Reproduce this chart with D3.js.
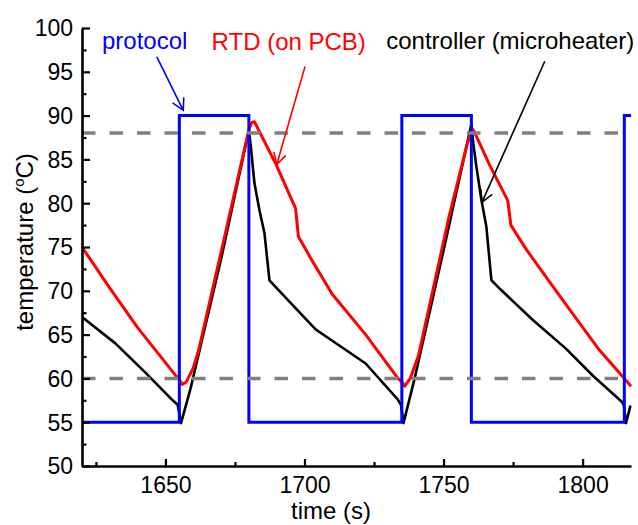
<!DOCTYPE html>
<html>
<head>
<meta charset="utf-8">
<script src="https://cdn.jsdelivr.net/npm/d3@7"></script>
<style>
    body { margin: 0; background: white; }
    svg { font-family: "Liberation Sans", Arial, sans-serif; }
</style>
</head>
<body>
<script>
// axis ticks
var timeTicks = [1650, 1700, 1750, 1800];
var timeMinorTicks = [1625, 1675, 1725, 1775];
var tempTicks = [50, 55, 60, 65, 70, 75, 80, 85, 90, 95, 100];
var tempMinorTicks = [52.5, 57.5, 62.5, 67.5, 72.5, 77.5, 82.5, 87.5, 92.5, 97.5];

// protocol (set point square wave)
var protocolTime = [1620, 1655, 1655, 1680, 1680, 1735, 1735, 1760, 1760, 1815, 1815, 1817.4];
var protocolTemp = [55, 55, 90, 90, 55, 55, 90, 90, 55, 55, 90, 90];

// RTD on the PCB (red)
var rtdTime = [1620, 1630, 1640, 1648, 1654, 1655, 1656, 1657.5, 1660, 1662, 1671, 1680, 1681, 1682,
    1689.8, 1696.8, 1697.8, 1703, 1710, 1722, 1733.6, 1735, 1736,
    1738, 1741, 1752, 1758.2, 1760.3, 1761,
    1766.5, 1773.1, 1774.2, 1779.8, 1790, 1794.1, 1806.1, 1813.9, 1817.4];
var rtdTemp = [75.0, 70.3, 65.8, 62.6, 60.2, 59.9, 59.3, 59.6, 61.2, 63.3, 75.8, 88.4, 89.2, 89.3,
    84.4, 79.4, 76.2, 73.3, 69.6, 65.0, 60.0, 59.6, 59.1,
    60.0, 62.6, 78.5, 86.4, 88.5, 88.2,
    84.4, 80.3, 77.5, 74.7, 70.2, 68.4, 63.2, 60.4, 59.1];

// controller on the microheater (black)
var ctrlTime = [1620, 1632, 1643, 1652.6, 1654.4, 1655.6, 1659, 1670, 1680,
    1680.7, 1682, 1683.8, 1685.6, 1687.4, 1690, 1704, 1710, 1722, 1733.5, 1734.7, 1735.6,
    1739.6, 1750, 1760, 1760.7, 1761.8, 1763.6, 1765.4, 1767.2, 1770, 1782, 1794, 1803.7, 1813.9, 1814.8, 1815.6, 1817.2];
var ctrlTemp = [67.0, 64.0, 60.6, 57.5, 57.0, 54.9, 58.8, 73.6, 88.3,
    86.5, 82.3, 79.2, 76.6, 71.2, 70.3, 65.6, 64.3, 61.7, 57.6, 57.0, 54.9,
    60.0, 74.6, 89.0, 86.8, 84.2, 80.4, 77.3, 71.2, 70.3, 66.7, 63.4, 60.3, 57.4, 57.0, 54.9, 56.9];

// dashed reference levels
var refLevels = [88, 60];

// annotation texts and arrows (data coordinates)
var noteTexts = ["protocol", "RTD (on PCB)", "controller (microheater)"];
var noteColors = ["#0000ff", "#ff0000", "#000000"];
var noteTextTime = [1627.2, 1666.6, 1729.4];
var noteTextTemp = [97.55, 97.5, 97.55];
var arrowFromTime = [1646.9, 1700.2, 1786.4];
var arrowFromTemp = [96.7, 95.6, 96.2];
var arrowToTime = [1656.4, 1690.0, 1763.8];
var arrowToTemp = [90.6, 84.4, 80.1];

draw();

function draw() {
    let width = 638,
        height = 525;

    let svg = d3.select("body").append("svg")
        .attr("width", width)
        .attr("height", height);

    let x = d3.scaleLinear().domain([1620, 1817.4]).range([82, 631]);
    let y = d3.scaleLinear().domain([50, 100]).range([466, 28]);

    let line = d3.line()
        .x(d => x(d[0]))
        .y(d => y(d[1]));

    let ctrlData = ctrlTime.map((t, i) => [t, ctrlTemp[i]]);
    let rtdData = rtdTime.map((t, i) => [t, rtdTemp[i]]);
    let protoData = protocolTime.map((t, i) => [t, protocolTemp[i]]);

    svg.append("path")
        .datum(ctrlData)
        .attr("d", line)
        .attr("fill", "none")
        .attr("stroke", "#000")
        .attr("stroke-width", 2.6)
        .attr("stroke-linejoin", "round");

    svg.append("path")
        .datum(rtdData)
        .attr("d", line)
        .attr("fill", "none")
        .attr("stroke", "#ff0000")
        .attr("stroke-width", 3)
        .attr("stroke-linejoin", "round");

    svg.append("path")
        .datum(protoData)
        .attr("d", line)
        .attr("fill", "none")
        .attr("stroke", "#0000ff")
        .attr("stroke-width", 3)
        .attr("stroke-linejoin", "miter");

    svg.selectAll(".ref")
        .data(refLevels)
        .join("line")
            .attr("class", "ref")
            .attr("x1", x(1620))
            .attr("x2", x(1817.4))
            .attr("y1", d => y(d))
            .attr("y2", d => y(d))
            .attr("stroke", "#808080")
            .attr("stroke-width", 3.5)
            .attr("stroke-dasharray", "13.5,14");

    // axes, ticks pointing inward
    svg.append("g")
        .attr("transform", "translate(0," + y(50) + ")")
        .call(d3.axisBottom(x).tickValues(timeTicks).tickFormat(d3.format("d"))
            .tickSize(-7).tickSizeOuter(0).tickPadding(11));
    svg.append("g")
        .attr("transform", "translate(0," + y(50) + ")")
        .call(d3.axisBottom(x).tickValues(timeMinorTicks).tickSize(-4).tickSizeOuter(0).tickFormat(""))
        .select(".domain").remove();

    let yAxis = svg.append("g")
        .attr("transform", "translate(" + x(1620) + ",0)")
        .call(d3.axisLeft(y).tickValues(tempTicks).tickFormat(d3.format("d"))
            .tickSize(-8).tickSizeOuter(0).tickPadding(9));
    svg.append("g")
        .attr("transform", "translate(" + x(1620) + ",0)")
        .call(d3.axisLeft(y).tickValues(tempMinorTicks).tickSize(-4.5).tickSizeOuter(0).tickFormat(""))
        .select(".domain").remove();

    svg.selectAll(".domain").attr("stroke", "#000").attr("stroke-width", 2.6);
    svg.selectAll(".tick line").attr("stroke", "#000").attr("stroke-width", 2.2);
    svg.selectAll(".tick text")
        .attr("font-family", "Liberation Sans, Arial, sans-serif")
        .attr("font-size", 23)
        .attr("fill", "#000");
    yAxis.selectAll(".tick text").attr("dy", "0.34em");

    // axis titles
    svg.append("text")
        .attr("x", 331)
        .attr("y", 519)
        .attr("text-anchor", "middle")
        .attr("font-size", 24)
        .text("time (s)");

    let yTitle = svg.append("text")
        .attr("transform", "translate(33,242) rotate(-90)")
        .attr("text-anchor", "middle")
        .attr("font-size", 24);
    yTitle.append("tspan").text("temperature (");
    yTitle.append("tspan").attr("font-size", 15).attr("dy", "-0.6em").text("o");
    yTitle.append("tspan").attr("dy", "0.37em").text("C)");

    // annotations
    svg.selectAll(".note")
        .data(noteTexts)
        .join("text")
            .attr("class", "note")
            .attr("x", (d, i) => x(noteTextTime[i]))
            .attr("y", (d, i) => y(noteTextTemp[i]))
            .attr("font-size", 24)
            .attr("fill", (d, i) => noteColors[i])
            .text(d => d);

    let arrows = noteTexts.map((d, i) => {
        let x0 = x(arrowFromTime[i]), y0 = y(arrowFromTemp[i]);
        let x1 = x(arrowToTime[i]), y1 = y(arrowToTemp[i]);
        let a = Math.atan2(y0 - y1, x0 - x1);
        let len = 13, spread = 0.5;
        let w1 = [x1 + len * Math.cos(a - spread), y1 + len * Math.sin(a - spread)];
        let w2 = [x1 + len * Math.cos(a + spread), y1 + len * Math.sin(a + spread)];
        return "M" + x0 + "," + y0 + "L" + x1 + "," + y1 +
            "M" + w1[0] + "," + w1[1] + "L" + x1 + "," + y1 + "L" + w2[0] + "," + w2[1];
    });

    svg.selectAll(".arrow")
        .data(arrows)
        .join("path")
            .attr("class", "arrow")
            .attr("d", d => d)
            .attr("fill", "none")
            .attr("stroke", (d, i) => noteColors[i])
            .attr("stroke-width", 1.6);
}
</script>
</body>
</html>
